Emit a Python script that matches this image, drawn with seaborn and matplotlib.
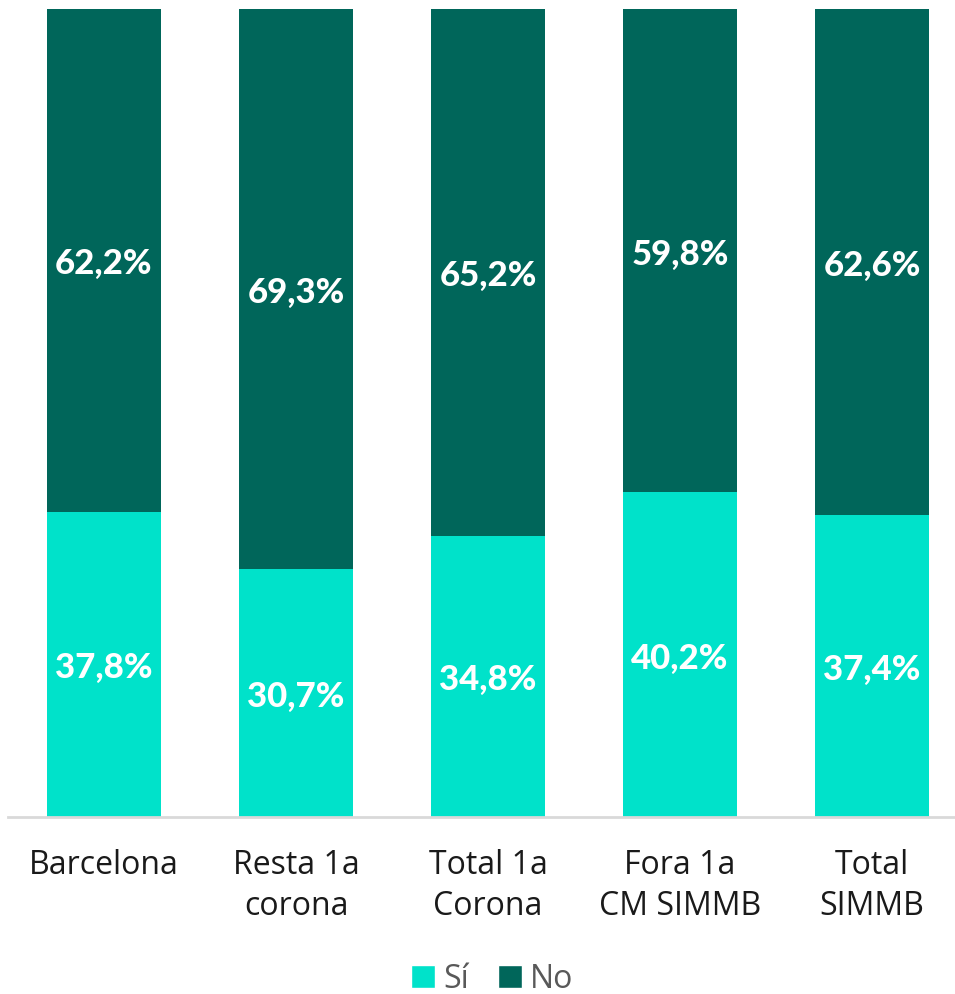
import matplotlib
matplotlib.use("Agg")
import matplotlib.pyplot as plt
from matplotlib.patches import Patch
import seaborn as sns
import pandas as pd

categories = ["Barcelona", "Resta 1a\ncorona", "Total 1a\nCorona", "Fora 1a\nCM SIMMB", "Total\nSIMMB"]
si_values = [37.8, 30.7, 34.8, 40.2, 37.4]
no_values = [62.2, 69.3, 65.2, 59.8, 62.6]

SI_COLOR = "#00E2CA"
NO_COLOR = "#00665A"

sns.set_theme(style="white")
plt.rcParams["font.family"] = ["Open Sans", "DejaVu Sans"]

df = pd.DataFrame({"cat": categories, "si": si_values, "no": no_values})
df["total"] = df["si"] + df["no"]

fig = plt.figure(figsize=(9.55, 9.95), dpi=100)
ax = fig.add_axes([8 / 955, 1 - 818 / 995, 947 / 955, 808 / 995])

# stacked: full bar in the "No" colour, "Sí" part drawn over its base
sns.barplot(data=df, x="cat", y="total", color=NO_COLOR, width=0.59,
            saturation=1, ax=ax, linewidth=0)
sns.barplot(data=df, x="cat", y="si", color=SI_COLOR, width=0.59,
            saturation=1, ax=ax, linewidth=0)

fmt = lambda v: f"{v:.1f}%".replace(".", ",")
for i, (s, n) in enumerate(zip(si_values, no_values)):
    for y, v in ((s / 2, s), (s + n / 2, n)):
        ax.text(i, y, fmt(v), ha="center", va="center_baseline", color="white",
                fontsize=25, fontweight=900, family=["Lato", "DejaVu Sans"])

ax.set_xlim(-0.5, -0.5 + 947 / 192)
ax.set_ylim(0, 100)
ax.set_xlabel("")
ax.set_ylabel("")
ax.set_yticks([])
ax.tick_params(axis="x", length=0, pad=22, labelsize=23, labelcolor="#1a1a1a")
for lbl in ax.get_xticklabels():
    lbl.set_linespacing(1.35)
for side in ["top", "left", "right"]:
    ax.spines[side].set_visible(False)
ax.spines["bottom"].set_color("#D9D9D9")
ax.spines["bottom"].set_linewidth(2)

handles = [Patch(facecolor=SI_COLOR, label="Sí"), Patch(facecolor=NO_COLOR, label="No")]
fig.legend(handles=handles, loc="center", bbox_to_anchor=(492 / 955, 1 - 980 / 995),
           ncol=2, frameon=False, fontsize=23, handlelength=0.75, handleheight=0.75,
           handletextpad=0.25, columnspacing=0.9, labelcolor="#595959")

fig.savefig("out.png", dpi=100)
